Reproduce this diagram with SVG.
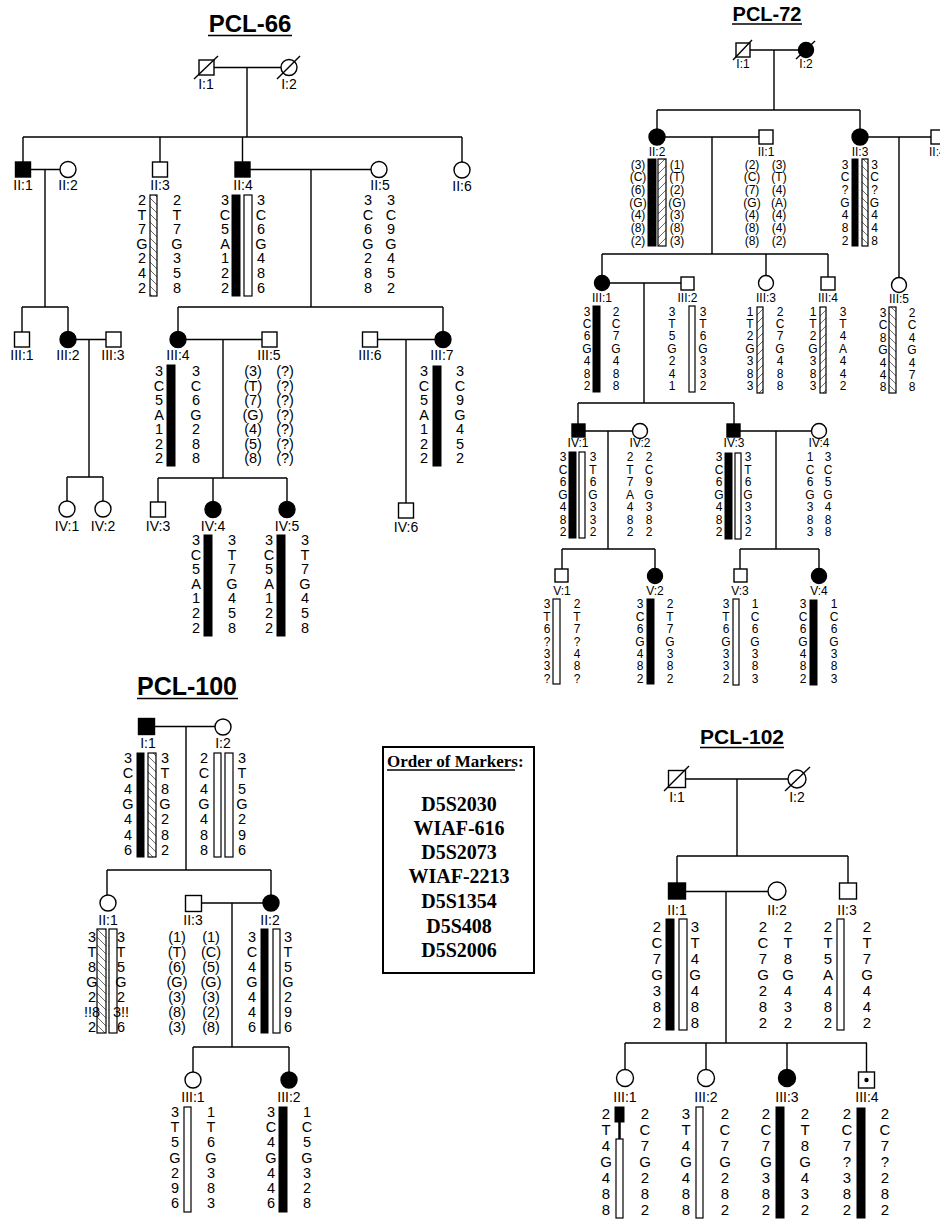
<svg xmlns="http://www.w3.org/2000/svg" width="940" height="1220" viewBox="0 0 940 1220">
<style>
text{font-family:"Liberation Sans",Arial,sans-serif;fill:#000}
.lb{font-size:14px;text-anchor:middle}
.lb7{font-size:12px;text-anchor:middle}
.a6{font-size:14.5px;text-anchor:middle}
.a7{font-size:12px;text-anchor:middle}
.a2{font-size:15px;text-anchor:middle}
.ttl{font-weight:bold;text-anchor:middle}
text.ser{font-family:"Liberation Serif","Times New Roman",serif;font-weight:bold}
text.mk{font-family:"Liberation Serif","Times New Roman",serif;font-weight:bold;font-size:20px;text-anchor:middle}
.sym{fill:#fff;stroke:#000;stroke-width:1.4}
.aff{fill:#000;stroke:#000;stroke-width:1.4}
.ln{stroke:#000;stroke-width:1.4;fill:none}
.bk{fill:#000;stroke:#000;stroke-width:1}
.wh{fill:#fff;stroke:#000;stroke-width:1.2}
.hb{fill:url(#hb);stroke:#000;stroke-width:1.2}
.hf{fill:url(#hf);stroke:#000;stroke-width:1.2}
.ul{stroke:#000;stroke-width:1.6}
</style>
<defs>
<pattern id="hb" patternUnits="userSpaceOnUse" width="8" height="8"><path d="M0,0L8,8M-1,7L1,9M7,-1L9,1" stroke="#444" stroke-width="0.8"/></pattern>
<pattern id="hf" patternUnits="userSpaceOnUse" width="8" height="8"><path d="M0,8L8,0M-1,1L1,-1M7,9L9,7" stroke="#444" stroke-width="0.8"/></pattern>
</defs>
<rect x="0" y="0" width="940" height="1220" fill="#fff"/>
<g opacity="0.995">
<g id="connectors" class="ln">
<path d="M214,67.5H281M247,67.5V137M23,137H462M23,137V162M160,137V162M242.5,137V162M462,137V162"/>
<path d="M30.5,169.5H60M45,169.5V307M22,307H68M22,307V332M68,307V331"/>
<path d="M250,169.5H371M311,169.5V307M178,307H443M178,307V331M443,307V331"/>
<path d="M76,339.5H106M89,339.5V477M67,477H103M67,477V501M103,477V501"/>
<path d="M186,339.5H262M223,339.5V478M158,478H287M158,478V502M213,478V501.5M287,478V501.5"/>
<path d="M377.5,339.5H435M406,339.5V503"/>
<path d="M750,50H798.5M774,50V110M657,110H860M657,110V129M860,110V129"/>
<path d="M665,137H759M712,137V254M602,254H828M602,254V275.5M766,254V275.5M828,254V277"/>
<path d="M868,137H931M899,137V277.5"/>
<path d="M609.5,283H681M644,283V403M578,403H734M578,403V424M734,403V424"/>
<path d="M585,431H632.5M608,431V549M562,549H655M562,549V569M655,549V568.5"/>
<path d="M740,431H811.5M776,431V549M740,549H819M740,549V569M819,549V568.5"/>
<path d="M154.5,726.5H215M186,726.5V870M107,870H271M107,870V895M271,870V895"/>
<path d="M201.5,903H263M232,903V1047M193,1047H289M193,1047V1072M289,1047V1072"/>
<path d="M685.5,779H788M737,779V856M677,856H848M677,856V883M848,856V883"/>
<path d="M685.5,891.5H768M726,891.5V1043M625,1043H867M625,1043V1069.5M706,1043V1069.5M787,1043V1069.5M866.5,1043V1072"/>
</g>

<!-- ================= PCL-66 ================= -->
<g id="p66-title"><text class="ttl" x="250" y="32" font-size="24">PCL-66</text><line class="ul" x1="208" y1="35.5" x2="292" y2="35.5"/></g>
<g id="p66-I1"><rect class="sym" x="199" y="60" width="15" height="15"/><line class="ln" x1="194" y1="79" x2="218" y2="56"/><text class="lb" x="206" y="89">I:1</text></g>
<g id="p66-I2"><circle class="sym" cx="289" cy="67.5" r="8"/><line class="ln" x1="277" y1="79" x2="300" y2="56"/><text class="lb" x="289" y="89">I:2</text></g>

<g id="p66-II1"><rect class="aff" x="15.5" y="162" width="15" height="15"/><text class="lb" x="23" y="190">II:1</text></g>
<g id="p66-II2"><circle class="sym" cx="68" cy="169.5" r="8"/><text class="lb" x="68" y="190">II:2</text></g>
<g id="p66-II3"><rect class="sym" x="152.5" y="162" width="15" height="15"/><text class="lb" x="160" y="190">II:3</text>
<rect class="hb" x="150" y="195" width="7" height="101"/>
<text class="a6" x="142" y="205"><tspan x="142">2</tspan><tspan x="142" dy="14.6">T</tspan><tspan x="142" dy="14.6">7</tspan><tspan x="142" dy="14.6">G</tspan><tspan x="142" dy="14.6">2</tspan><tspan x="142" dy="14.6">4</tspan><tspan x="142" dy="14.6">2</tspan></text>
<text class="a6" x="177" y="205"><tspan x="177">2</tspan><tspan x="177" dy="14.6">T</tspan><tspan x="177" dy="14.6">7</tspan><tspan x="177" dy="14.6">G</tspan><tspan x="177" dy="14.6">3</tspan><tspan x="177" dy="14.6">5</tspan><tspan x="177" dy="14.6">8</tspan></text></g>
<g id="p66-II4"><rect class="aff" x="235" y="162" width="15" height="15"/><text class="lb" x="243" y="190">II:4</text>
<rect class="bk" x="232" y="195" width="8" height="101"/><rect class="wh" x="244" y="195" width="8" height="101"/>
<text class="a6" x="225" y="205"><tspan x="225">3</tspan><tspan x="225" dy="14.6">C</tspan><tspan x="225" dy="14.6">5</tspan><tspan x="225" dy="14.6">A</tspan><tspan x="225" dy="14.6">1</tspan><tspan x="225" dy="14.6">2</tspan><tspan x="225" dy="14.6">2</tspan></text>
<text class="a6" x="261" y="205"><tspan x="261">3</tspan><tspan x="261" dy="14.6">C</tspan><tspan x="261" dy="14.6">6</tspan><tspan x="261" dy="14.6">G</tspan><tspan x="261" dy="14.6">4</tspan><tspan x="261" dy="14.6">8</tspan><tspan x="261" dy="14.6">6</tspan></text></g>
<g id="p66-II5"><circle class="sym" cx="379" cy="169.5" r="8"/><text class="lb" x="380" y="190">II:5</text>
<text class="a6" x="368" y="205"><tspan x="368">3</tspan><tspan x="368" dy="14.6">C</tspan><tspan x="368" dy="14.6">6</tspan><tspan x="368" dy="14.6">G</tspan><tspan x="368" dy="14.6">2</tspan><tspan x="368" dy="14.6">8</tspan><tspan x="368" dy="14.6">8</tspan></text>
<text class="a6" x="391" y="205"><tspan x="391">3</tspan><tspan x="391" dy="14.6">C</tspan><tspan x="391" dy="14.6">9</tspan><tspan x="391" dy="14.6">G</tspan><tspan x="391" dy="14.6">4</tspan><tspan x="391" dy="14.6">5</tspan><tspan x="391" dy="14.6">2</tspan></text></g>
<g id="p66-II6"><circle class="sym" cx="462" cy="170" r="8"/><text class="lb" x="462" y="191">II:6</text></g>

<g id="p66-III1"><rect class="sym" x="14.5" y="332" width="15" height="15"/><text class="lb" x="22" y="360">III:1</text></g>
<g id="p66-III2"><circle class="aff" cx="68" cy="339.5" r="8"/><text class="lb" x="68" y="360">III:2</text></g>
<g id="p66-III3"><rect class="sym" x="106" y="332" width="15" height="15"/><text class="lb" x="113" y="360">III:3</text></g>
<g id="p66-III4"><circle class="aff" cx="178" cy="339.5" r="8"/><text class="lb" x="178" y="360">III:4</text>
<rect class="bk" x="167" y="365" width="8" height="101"/>
<text class="a6" x="159" y="376"><tspan x="159">3</tspan><tspan x="159" dy="14.5">C</tspan><tspan x="159" dy="14.5">5</tspan><tspan x="159" dy="14.5">A</tspan><tspan x="159" dy="14.5">1</tspan><tspan x="159" dy="14.5">2</tspan><tspan x="159" dy="14.5">2</tspan></text>
<text class="a6" x="196" y="376"><tspan x="196">3</tspan><tspan x="196" dy="14.5">C</tspan><tspan x="196" dy="14.5">6</tspan><tspan x="196" dy="14.5">G</tspan><tspan x="196" dy="14.5">2</tspan><tspan x="196" dy="14.5">8</tspan><tspan x="196" dy="14.5">8</tspan></text></g>
<g id="p66-III5"><rect class="sym" x="262" y="332" width="15" height="15"/><text class="lb" x="269" y="360">III:5</text>
<text class="a6" x="253" y="376"><tspan x="253">(3)</tspan><tspan x="253" dy="14.5">(T)</tspan><tspan x="253" dy="14.5">(7)</tspan><tspan x="253" dy="14.5">(G)</tspan><tspan x="253" dy="14.5">(4)</tspan><tspan x="253" dy="14.5">(5)</tspan><tspan x="253" dy="14.5">(8)</tspan></text>
<text class="a6" x="285" y="376"><tspan x="285">(?)</tspan><tspan x="285" dy="14.5">(?)</tspan><tspan x="285" dy="14.5">(?)</tspan><tspan x="285" dy="14.5">(?)</tspan><tspan x="285" dy="14.5">(?)</tspan><tspan x="285" dy="14.5">(?)</tspan><tspan x="285" dy="14.5">(?)</tspan></text></g>
<g id="p66-III6"><rect class="sym" x="362.5" y="332" width="15" height="15"/><text class="lb" x="370" y="360">III:6</text></g>
<g id="p66-III7"><circle class="aff" cx="443" cy="339.5" r="8"/><text class="lb" x="442" y="360">III:7</text>
<rect class="bk" x="433" y="366" width="8" height="100"/>
<text class="a6" x="424" y="376"><tspan x="424">3</tspan><tspan x="424" dy="14.5">C</tspan><tspan x="424" dy="14.5">5</tspan><tspan x="424" dy="14.5">A</tspan><tspan x="424" dy="14.5">1</tspan><tspan x="424" dy="14.5">2</tspan><tspan x="424" dy="14.5">2</tspan></text>
<text class="a6" x="460" y="376"><tspan x="460">3</tspan><tspan x="460" dy="14.5">C</tspan><tspan x="460" dy="14.5">9</tspan><tspan x="460" dy="14.5">G</tspan><tspan x="460" dy="14.5">4</tspan><tspan x="460" dy="14.5">5</tspan><tspan x="460" dy="14.5">2</tspan></text></g>

<g id="p66-IV1"><circle class="sym" cx="67" cy="509" r="8"/><text class="lb" x="67" y="531">IV:1</text></g>
<g id="p66-IV2"><circle class="sym" cx="103" cy="509" r="8"/><text class="lb" x="103" y="531">IV:2</text></g>
<g id="p66-IV3"><rect class="sym" x="150.5" y="502" width="15" height="15"/><text class="lb" x="158" y="531">IV:3</text></g>
<g id="p66-IV4"><circle class="aff" cx="213" cy="509.5" r="8"/><text class="lb" x="213" y="531">IV:4</text>
<rect class="bk" x="204" y="535" width="8" height="101"/>
<text class="a6" x="196" y="545"><tspan x="196">3</tspan><tspan x="196" dy="14.6">C</tspan><tspan x="196" dy="14.6">5</tspan><tspan x="196" dy="14.6">A</tspan><tspan x="196" dy="14.6">1</tspan><tspan x="196" dy="14.6">2</tspan><tspan x="196" dy="14.6">2</tspan></text>
<text class="a6" x="232" y="545"><tspan x="232">3</tspan><tspan x="232" dy="14.6">T</tspan><tspan x="232" dy="14.6">7</tspan><tspan x="232" dy="14.6">G</tspan><tspan x="232" dy="14.6">4</tspan><tspan x="232" dy="14.6">5</tspan><tspan x="232" dy="14.6">8</tspan></text></g>
<g id="p66-IV5"><circle class="aff" cx="287" cy="509.5" r="8"/><text class="lb" x="287" y="531">IV:5</text>
<rect class="bk" x="277" y="535" width="8" height="101"/>
<text class="a6" x="269" y="545"><tspan x="269">3</tspan><tspan x="269" dy="14.6">C</tspan><tspan x="269" dy="14.6">5</tspan><tspan x="269" dy="14.6">A</tspan><tspan x="269" dy="14.6">1</tspan><tspan x="269" dy="14.6">2</tspan><tspan x="269" dy="14.6">2</tspan></text>
<text class="a6" x="305" y="545"><tspan x="305">3</tspan><tspan x="305" dy="14.6">T</tspan><tspan x="305" dy="14.6">7</tspan><tspan x="305" dy="14.6">G</tspan><tspan x="305" dy="14.6">4</tspan><tspan x="305" dy="14.6">5</tspan><tspan x="305" dy="14.6">8</tspan></text></g>
<g id="p66-IV6"><rect class="sym" x="398.5" y="503" width="15" height="15"/><text class="lb" x="406" y="532">IV:6</text></g>

<!-- ================= PCL-72 ================= -->
<g id="p72-title"><text class="ttl" x="767" y="21" font-size="20">PCL-72</text><line class="ul" x1="732" y1="24" x2="802" y2="24"/></g>
<g id="p72-I1"><rect class="sym" x="736" y="43" width="14" height="14"/><line class="ln" x1="733" y1="60" x2="752" y2="40"/><text class="lb7" x="743" y="68">I:1</text></g>
<g id="p72-I2"><circle class="aff" cx="806" cy="50" r="7.5"/><line class="ln" x1="796" y1="59" x2="815" y2="41"/><text class="lb7" x="806" y="68">I:2</text></g>

<g id="p72-II2"><circle class="aff" cx="657" cy="137" r="8"/><text class="lb7" x="657" y="156">II:2</text>
<rect class="bk" x="648" y="159" width="8" height="87"/><rect class="hf" x="658" y="159" width="8" height="87"/>
<text class="a7" x="638" y="168.5"><tspan x="638">(3)</tspan><tspan x="638" dy="12.7">(C)</tspan><tspan x="638" dy="12.7">(6)</tspan><tspan x="638" dy="12.7">(G)</tspan><tspan x="638" dy="12.7">(4)</tspan><tspan x="638" dy="12.7">(8)</tspan><tspan x="638" dy="12.7">(2)</tspan></text>
<text class="a7" x="677" y="168.5"><tspan x="677">(1)</tspan><tspan x="677" dy="12.7">(T)</tspan><tspan x="677" dy="12.7">(2)</tspan><tspan x="677" dy="12.7">(G)</tspan><tspan x="677" dy="12.7">(3)</tspan><tspan x="677" dy="12.7">(8)</tspan><tspan x="677" dy="12.7">(3)</tspan></text></g>
<g id="p72-II1"><rect class="sym" x="759" y="130" width="14" height="14"/><text class="lb7" x="766" y="156">II:1</text>
<text class="a7" x="752" y="168.5"><tspan x="752">(2)</tspan><tspan x="752" dy="12.7">(C)</tspan><tspan x="752" dy="12.7">(7)</tspan><tspan x="752" dy="12.7">(G)</tspan><tspan x="752" dy="12.7">(4)</tspan><tspan x="752" dy="12.7">(8)</tspan><tspan x="752" dy="12.7">(8)</tspan></text>
<text class="a7" x="779" y="168.5"><tspan x="779">(3)</tspan><tspan x="779" dy="12.7">(T)</tspan><tspan x="779" dy="12.7">(4)</tspan><tspan x="779" dy="12.7">(A)</tspan><tspan x="779" dy="12.7">(4)</tspan><tspan x="779" dy="12.7">(4)</tspan><tspan x="779" dy="12.7">(2)</tspan></text></g>
<g id="p72-II3"><circle class="aff" cx="860" cy="137" r="8"/><text class="lb7" x="860" y="156">II:3</text>
<rect class="bk" x="852" y="159" width="6" height="87"/><rect class="hb" x="862" y="159" width="6" height="87"/>
<text class="a7" x="845" y="168.5"><tspan x="845">3</tspan><tspan x="845" dy="12.7">C</tspan><tspan x="845" dy="12.7">?</tspan><tspan x="845" dy="12.7">G</tspan><tspan x="845" dy="12.7">4</tspan><tspan x="845" dy="12.7">8</tspan><tspan x="845" dy="12.7">2</tspan></text>
<text class="a7" x="874.5" y="168.5"><tspan x="874.5">3</tspan><tspan x="874.5" dy="12.7">C</tspan><tspan x="874.5" dy="12.7">?</tspan><tspan x="874.5" dy="12.7">G</tspan><tspan x="874.5" dy="12.7">4</tspan><tspan x="874.5" dy="12.7">4</tspan><tspan x="874.5" dy="12.7">8</tspan></text></g>
<g id="p72-II4"><rect class="sym" x="931" y="130" width="14" height="14"/><text x="929" y="156" font-size="12">II:4</text></g>

<g id="p72-III1"><circle class="aff" cx="602" cy="283" r="7.5"/><text class="lb7" x="602" y="302">III:1</text>
<rect class="bk" x="593" y="306" width="7" height="86"/>
<text class="a7" x="587" y="315.5"><tspan x="587">3</tspan><tspan x="587" dy="12.4">C</tspan><tspan x="587" dy="12.4">6</tspan><tspan x="587" dy="12.4">G</tspan><tspan x="587" dy="12.4">4</tspan><tspan x="587" dy="12.4">8</tspan><tspan x="587" dy="12.4">2</tspan></text>
<text class="a7" x="616" y="315.5"><tspan x="616">2</tspan><tspan x="616" dy="12.4">C</tspan><tspan x="616" dy="12.4">7</tspan><tspan x="616" dy="12.4">G</tspan><tspan x="616" dy="12.4">4</tspan><tspan x="616" dy="12.4">8</tspan><tspan x="616" dy="12.4">8</tspan></text></g>
<g id="p72-III2"><rect class="sym" x="681" y="277" width="13" height="13"/><text class="lb7" x="687.5" y="302">III:2</text>
<rect class="wh" x="689" y="306" width="6" height="86"/>
<text class="a7" x="672" y="315.5"><tspan x="672">3</tspan><tspan x="672" dy="12.4">T</tspan><tspan x="672" dy="12.4">5</tspan><tspan x="672" dy="12.4">G</tspan><tspan x="672" dy="12.4">2</tspan><tspan x="672" dy="12.4">4</tspan><tspan x="672" dy="12.4">1</tspan></text>
<text class="a7" x="703" y="315.5"><tspan x="703">3</tspan><tspan x="703" dy="12.4">T</tspan><tspan x="703" dy="12.4">6</tspan><tspan x="703" dy="12.4">G</tspan><tspan x="703" dy="12.4">3</tspan><tspan x="703" dy="12.4">3</tspan><tspan x="703" dy="12.4">2</tspan></text></g>
<g id="p72-III3"><circle class="sym" cx="766" cy="283" r="7.5"/><text class="lb7" x="766" y="302">III:3</text>
<rect class="hf" x="757" y="307" width="6" height="86"/>
<text class="a7" x="750" y="315.5"><tspan x="750">1</tspan><tspan x="750" dy="12.4">T</tspan><tspan x="750" dy="12.4">2</tspan><tspan x="750" dy="12.4">G</tspan><tspan x="750" dy="12.4">3</tspan><tspan x="750" dy="12.4">8</tspan><tspan x="750" dy="12.4">3</tspan></text>
<text class="a7" x="780" y="315.5"><tspan x="780">2</tspan><tspan x="780" dy="12.4">C</tspan><tspan x="780" dy="12.4">7</tspan><tspan x="780" dy="12.4">G</tspan><tspan x="780" dy="12.4">4</tspan><tspan x="780" dy="12.4">8</tspan><tspan x="780" dy="12.4">8</tspan></text></g>
<g id="p72-III4"><rect class="sym" x="821" y="277" width="14" height="13"/><text class="lb7" x="828" y="302">III:4</text>
<rect class="hf" x="820" y="307" width="6" height="86"/>
<text class="a7" x="813" y="315.5"><tspan x="813">1</tspan><tspan x="813" dy="12.4">T</tspan><tspan x="813" dy="12.4">2</tspan><tspan x="813" dy="12.4">G</tspan><tspan x="813" dy="12.4">3</tspan><tspan x="813" dy="12.4">8</tspan><tspan x="813" dy="12.4">3</tspan></text>
<text class="a7" x="843" y="315.5"><tspan x="843">3</tspan><tspan x="843" dy="12.4">T</tspan><tspan x="843" dy="12.4">4</tspan><tspan x="843" dy="12.4">A</tspan><tspan x="843" dy="12.4">4</tspan><tspan x="843" dy="12.4">4</tspan><tspan x="843" dy="12.4">2</tspan></text></g>
<g id="p72-III5"><circle class="sym" cx="899" cy="285" r="7.5"/><text class="lb7" x="899" y="303">III:5</text>
<rect class="hb" x="889" y="307" width="7" height="86"/>
<text class="a7" x="883" y="317"><tspan x="883">3</tspan><tspan x="883" dy="12.4">C</tspan><tspan x="883" dy="12.4">8</tspan><tspan x="883" dy="12.4">G</tspan><tspan x="883" dy="12.4">4</tspan><tspan x="883" dy="12.4">4</tspan><tspan x="883" dy="12.4">8</tspan></text>
<text class="a7" x="912" y="317"><tspan x="912">2</tspan><tspan x="912" dy="12.4">C</tspan><tspan x="912" dy="12.4">4</tspan><tspan x="912" dy="12.4">G</tspan><tspan x="912" dy="12.4">4</tspan><tspan x="912" dy="12.4">7</tspan><tspan x="912" dy="12.4">8</tspan></text></g>

<g id="p72-IV1"><rect class="aff" x="572" y="424" width="13" height="13"/><text class="lb7" x="578" y="447">IV:1</text>
<rect class="bk" x="569" y="452" width="7" height="86"/><rect class="wh" x="579" y="452" width="6" height="86"/>
<text class="a7" x="563" y="461.3"><tspan x="563">3</tspan><tspan x="563" dy="12.5">C</tspan><tspan x="563" dy="12.5">6</tspan><tspan x="563" dy="12.5">G</tspan><tspan x="563" dy="12.5">4</tspan><tspan x="563" dy="12.5">8</tspan><tspan x="563" dy="12.5">2</tspan></text>
<text class="a7" x="593" y="461.3"><tspan x="593">3</tspan><tspan x="593" dy="12.5">T</tspan><tspan x="593" dy="12.5">6</tspan><tspan x="593" dy="12.5">G</tspan><tspan x="593" dy="12.5">3</tspan><tspan x="593" dy="12.5">3</tspan><tspan x="593" dy="12.5">2</tspan></text></g>
<g id="p72-IV2"><circle class="sym" cx="640" cy="431" r="7.5"/><text class="lb7" x="640" y="447">IV:2</text>
<text class="a7" x="630" y="461.3"><tspan x="630">2</tspan><tspan x="630" dy="12.5">T</tspan><tspan x="630" dy="12.5">7</tspan><tspan x="630" dy="12.5">A</tspan><tspan x="630" dy="12.5">4</tspan><tspan x="630" dy="12.5">8</tspan><tspan x="630" dy="12.5">2</tspan></text>
<text class="a7" x="649" y="461.3"><tspan x="649">2</tspan><tspan x="649" dy="12.5">C</tspan><tspan x="649" dy="12.5">9</tspan><tspan x="649" dy="12.5">G</tspan><tspan x="649" dy="12.5">3</tspan><tspan x="649" dy="12.5">8</tspan><tspan x="649" dy="12.5">2</tspan></text></g>
<g id="p72-IV3"><rect class="aff" x="727" y="424" width="13" height="13"/><text class="lb7" x="734" y="447">IV:3</text>
<rect class="bk" x="725" y="453" width="7" height="86"/><rect class="wh" x="735" y="453" width="6" height="86"/>
<text class="a7" x="719" y="461.3"><tspan x="719">3</tspan><tspan x="719" dy="12.5">C</tspan><tspan x="719" dy="12.5">6</tspan><tspan x="719" dy="12.5">G</tspan><tspan x="719" dy="12.5">4</tspan><tspan x="719" dy="12.5">8</tspan><tspan x="719" dy="12.5">2</tspan></text>
<text class="a7" x="748" y="461.3"><tspan x="748">3</tspan><tspan x="748" dy="12.5">T</tspan><tspan x="748" dy="12.5">6</tspan><tspan x="748" dy="12.5">G</tspan><tspan x="748" dy="12.5">3</tspan><tspan x="748" dy="12.5">3</tspan><tspan x="748" dy="12.5">2</tspan></text></g>
<g id="p72-IV4"><circle class="sym" cx="819" cy="431" r="7.5"/><text class="lb7" x="819" y="447">IV:4</text>
<text class="a7" x="810" y="461.3"><tspan x="810">1</tspan><tspan x="810" dy="12.5">C</tspan><tspan x="810" dy="12.5">6</tspan><tspan x="810" dy="12.5">G</tspan><tspan x="810" dy="12.5">3</tspan><tspan x="810" dy="12.5">8</tspan><tspan x="810" dy="12.5">3</tspan></text>
<text class="a7" x="828" y="461.3"><tspan x="828">3</tspan><tspan x="828" dy="12.5">C</tspan><tspan x="828" dy="12.5">5</tspan><tspan x="828" dy="12.5">G</tspan><tspan x="828" dy="12.5">4</tspan><tspan x="828" dy="12.5">8</tspan><tspan x="828" dy="12.5">8</tspan></text></g>

<g id="p72-V1"><rect class="sym" x="555" y="569" width="13" height="13"/><text class="lb7" x="562" y="595">V:1</text>
<rect class="wh" x="553" y="599" width="7" height="85"/>
<text class="a7" x="547" y="608.3"><tspan x="547">3</tspan><tspan x="547" dy="12.4">T</tspan><tspan x="547" dy="12.4">6</tspan><tspan x="547" dy="12.4">?</tspan><tspan x="547" dy="12.4">3</tspan><tspan x="547" dy="12.4">3</tspan><tspan x="547" dy="12.4">?</tspan></text>
<text class="a7" x="577" y="608.3"><tspan x="577">2</tspan><tspan x="577" dy="12.4">T</tspan><tspan x="577" dy="12.4">7</tspan><tspan x="577" dy="12.4">?</tspan><tspan x="577" dy="12.4">4</tspan><tspan x="577" dy="12.4">8</tspan><tspan x="577" dy="12.4">?</tspan></text></g>
<g id="p72-V2"><circle class="aff" cx="655" cy="576" r="7.5"/><text class="lb7" x="655" y="595">V:2</text>
<rect class="bk" x="647" y="599" width="7" height="85"/>
<text class="a7" x="640" y="608.3"><tspan x="640">3</tspan><tspan x="640" dy="12.4">C</tspan><tspan x="640" dy="12.4">6</tspan><tspan x="640" dy="12.4">G</tspan><tspan x="640" dy="12.4">4</tspan><tspan x="640" dy="12.4">8</tspan><tspan x="640" dy="12.4">2</tspan></text>
<text class="a7" x="670" y="608.3"><tspan x="670">2</tspan><tspan x="670" dy="12.4">T</tspan><tspan x="670" dy="12.4">7</tspan><tspan x="670" dy="12.4">G</tspan><tspan x="670" dy="12.4">3</tspan><tspan x="670" dy="12.4">8</tspan><tspan x="670" dy="12.4">2</tspan></text></g>
<g id="p72-V3"><rect class="sym" x="734" y="569" width="13" height="13"/><text class="lb7" x="740" y="595">V:3</text>
<rect class="wh" x="733" y="599" width="6" height="86"/>
<text class="a7" x="726" y="608.3"><tspan x="726">3</tspan><tspan x="726" dy="12.4">T</tspan><tspan x="726" dy="12.4">6</tspan><tspan x="726" dy="12.4">G</tspan><tspan x="726" dy="12.4">3</tspan><tspan x="726" dy="12.4">3</tspan><tspan x="726" dy="12.4">2</tspan></text>
<text class="a7" x="755" y="608.3"><tspan x="755">1</tspan><tspan x="755" dy="12.4">C</tspan><tspan x="755" dy="12.4">6</tspan><tspan x="755" dy="12.4">G</tspan><tspan x="755" dy="12.4">3</tspan><tspan x="755" dy="12.4">8</tspan><tspan x="755" dy="12.4">3</tspan></text></g>
<g id="p72-V4"><circle class="aff" cx="819" cy="576" r="7.5"/><text class="lb7" x="819" y="595">V:4</text>
<rect class="bk" x="810" y="600" width="7" height="85"/>
<text class="a7" x="803" y="608.3"><tspan x="803">3</tspan><tspan x="803" dy="12.4">C</tspan><tspan x="803" dy="12.4">6</tspan><tspan x="803" dy="12.4">G</tspan><tspan x="803" dy="12.4">4</tspan><tspan x="803" dy="12.4">8</tspan><tspan x="803" dy="12.4">2</tspan></text>
<text class="a7" x="834" y="608.3"><tspan x="834">1</tspan><tspan x="834" dy="12.4">C</tspan><tspan x="834" dy="12.4">6</tspan><tspan x="834" dy="12.4">G</tspan><tspan x="834" dy="12.4">3</tspan><tspan x="834" dy="12.4">8</tspan><tspan x="834" dy="12.4">3</tspan></text></g>

<!-- ================= PCL-100 ================= -->
<g id="p100-title"><text class="ttl" x="187" y="695" font-size="25">PCL-100</text><line class="ul" x1="137" y1="698.5" x2="238" y2="698.5"/></g>
<g id="p100-I1"><rect class="aff" x="138.5" y="718.5" width="16" height="16"/><text class="lb" x="148" y="748">I:1</text>
<rect class="bk" x="137" y="753" width="7" height="104"/><rect class="hb" x="148" y="753" width="8" height="104"/>
<text class="a6" x="128" y="763"><tspan x="128">3</tspan><tspan x="128" dy="15.3">C</tspan><tspan x="128" dy="15.3">4</tspan><tspan x="128" dy="15.3">G</tspan><tspan x="128" dy="15.3">4</tspan><tspan x="128" dy="15.3">4</tspan><tspan x="128" dy="15.3">6</tspan></text>
<text class="a6" x="165" y="763"><tspan x="165">3</tspan><tspan x="165" dy="15.3">T</tspan><tspan x="165" dy="15.3">8</tspan><tspan x="165" dy="15.3">G</tspan><tspan x="165" dy="15.3">2</tspan><tspan x="165" dy="15.3">8</tspan><tspan x="165" dy="15.3">2</tspan></text></g>
<g id="p100-I2"><circle class="sym" cx="223" cy="727" r="8"/><text class="lb" x="223" y="748">I:2</text>
<rect class="wh" x="214" y="753" width="7" height="104"/><rect class="wh" x="225" y="753" width="8" height="104"/>
<text class="a6" x="204" y="763"><tspan x="204">2</tspan><tspan x="204" dy="15.3">C</tspan><tspan x="204" dy="15.3">4</tspan><tspan x="204" dy="15.3">G</tspan><tspan x="204" dy="15.3">4</tspan><tspan x="204" dy="15.3">8</tspan><tspan x="204" dy="15.3">8</tspan></text>
<text class="a6" x="242" y="763"><tspan x="242">3</tspan><tspan x="242" dy="15.3">T</tspan><tspan x="242" dy="15.3">5</tspan><tspan x="242" dy="15.3">G</tspan><tspan x="242" dy="15.3">2</tspan><tspan x="242" dy="15.3">9</tspan><tspan x="242" dy="15.3">6</tspan></text></g>

<g id="p100-II1"><circle class="sym" cx="108" cy="903" r="8"/><text class="lb" x="108" y="925">II:1</text>
<rect class="hb" x="97" y="929" width="9" height="104"/><rect class="wh" x="109" y="929" width="8" height="104"/>
<text class="a6" x="92" y="942" text-anchor="end"><tspan x="92">3</tspan><tspan x="92" dy="15">T</tspan><tspan x="92" dy="15">8</tspan><tspan x="92" dy="15">G</tspan><tspan x="92" dy="15">2</tspan><tspan x="92" dy="15">!!8</tspan><tspan x="92" dy="15">2</tspan></text>
<text class="a6" x="121" y="942" text-anchor="start"><tspan x="121">3</tspan><tspan x="121" dy="15">T</tspan><tspan x="121" dy="15">5</tspan><tspan x="121" dy="15">G</tspan><tspan x="121" dy="15">2</tspan><tspan x="121" dy="15">3!!</tspan><tspan x="121" dy="15">6</tspan></text></g>
<g id="p100-II3"><rect class="sym" x="185.5" y="895.5" width="16" height="16"/><text class="lb" x="193" y="925">II:3</text>
<text class="a6" x="177" y="942"><tspan x="177">(1)</tspan><tspan x="177" dy="15">(T)</tspan><tspan x="177" dy="15">(6)</tspan><tspan x="177" dy="15">(G)</tspan><tspan x="177" dy="15">(3)</tspan><tspan x="177" dy="15">(8)</tspan><tspan x="177" dy="15">(3)</tspan></text>
<text class="a6" x="211" y="942"><tspan x="211">(1)</tspan><tspan x="211" dy="15">(C)</tspan><tspan x="211" dy="15">(5)</tspan><tspan x="211" dy="15">(G)</tspan><tspan x="211" dy="15">(3)</tspan><tspan x="211" dy="15">(2)</tspan><tspan x="211" dy="15">(8)</tspan></text></g>
<g id="p100-II2"><circle class="aff" cx="271" cy="903" r="8"/><text class="lb" x="270" y="925">II:2</text>
<rect class="bk" x="261" y="929" width="7" height="104"/><rect class="wh" x="273" y="929" width="7" height="104"/>
<text class="a6" x="252" y="942"><tspan x="252">3</tspan><tspan x="252" dy="15">C</tspan><tspan x="252" dy="15">4</tspan><tspan x="252" dy="15">G</tspan><tspan x="252" dy="15">4</tspan><tspan x="252" dy="15">4</tspan><tspan x="252" dy="15">6</tspan></text>
<text class="a6" x="288" y="942"><tspan x="288">3</tspan><tspan x="288" dy="15">T</tspan><tspan x="288" dy="15">5</tspan><tspan x="288" dy="15">G</tspan><tspan x="288" dy="15">2</tspan><tspan x="288" dy="15">9</tspan><tspan x="288" dy="15">6</tspan></text></g>

<g id="p100-III1"><circle class="sym" cx="193" cy="1080" r="8"/><text class="lb" x="193" y="1102">III:1</text>
<rect class="wh" x="184" y="1107" width="7" height="105"/>
<text class="a6" x="175" y="1117"><tspan x="175">3</tspan><tspan x="175" dy="15.2">T</tspan><tspan x="175" dy="15.2">5</tspan><tspan x="175" dy="15.2">G</tspan><tspan x="175" dy="15.2">2</tspan><tspan x="175" dy="15.2">9</tspan><tspan x="175" dy="15.2">6</tspan></text>
<text class="a6" x="211" y="1117"><tspan x="211">1</tspan><tspan x="211" dy="15.2">T</tspan><tspan x="211" dy="15.2">6</tspan><tspan x="211" dy="15.2">G</tspan><tspan x="211" dy="15.2">3</tspan><tspan x="211" dy="15.2">8</tspan><tspan x="211" dy="15.2">3</tspan></text></g>
<g id="p100-III2"><circle class="aff" cx="289" cy="1080" r="8"/><text class="lb" x="289" y="1102">III:2</text>
<rect class="bk" x="279" y="1107" width="8" height="105"/>
<text class="a6" x="271" y="1117"><tspan x="271">3</tspan><tspan x="271" dy="15.2">C</tspan><tspan x="271" dy="15.2">4</tspan><tspan x="271" dy="15.2">G</tspan><tspan x="271" dy="15.2">4</tspan><tspan x="271" dy="15.2">4</tspan><tspan x="271" dy="15.2">6</tspan></text>
<text class="a6" x="307" y="1117"><tspan x="307">1</tspan><tspan x="307" dy="15.2">C</tspan><tspan x="307" dy="15.2">5</tspan><tspan x="307" dy="15.2">G</tspan><tspan x="307" dy="15.2">3</tspan><tspan x="307" dy="15.2">2</tspan><tspan x="307" dy="15.2">8</tspan></text></g>

<!-- ================= Order of markers ================= -->
<g id="markers">
<rect x="383" y="747" width="151" height="226" fill="#fff" stroke="#000" stroke-width="2"/>
<text class="ser" x="387" y="767" font-size="17">Order of Markers:</text>
<line class="ul" x1="387" y1="770" x2="515" y2="770"/>
<text class="mk" x="459" y="811">D5S2030</text>
<text class="mk" x="459" y="835">WIAF-616</text>
<text class="mk" x="459" y="859">D5S2073</text>
<text class="mk" x="459" y="883">WIAF-2213</text>
<text class="mk" x="459" y="908">D5S1354</text>
<text class="mk" x="459" y="933">D5S408</text>
<text class="mk" x="459" y="957">D5S2006</text>
</g>

<!-- ================= PCL-102 ================= -->
<g id="p102-title"><text class="ttl" x="742" y="744" font-size="21">PCL-102</text><line class="ul" x1="700" y1="747.5" x2="784" y2="747.5"/></g>
<g id="p102-I1"><rect class="sym" x="668.5" y="770.5" width="17" height="17"/><line class="ln" x1="664" y1="791" x2="689" y2="766"/><text class="lb" x="677" y="802">I:1</text></g>
<g id="p102-I2"><circle class="sym" cx="797" cy="779" r="9"/><line class="ln" x1="785" y1="791" x2="810" y2="767"/><text class="lb" x="797" y="802">I:2</text></g>

<g id="p102-II1"><rect class="aff" x="668.5" y="883" width="17" height="16"/><text class="lb" x="677" y="915">II:1</text>
<rect class="bk" x="666" y="919" width="8" height="111"/><rect class="wh" x="679" y="919" width="8" height="111"/>
<text class="a2" x="657" y="932"><tspan x="657">2</tspan><tspan x="657" dy="16">C</tspan><tspan x="657" dy="16">7</tspan><tspan x="657" dy="16">G</tspan><tspan x="657" dy="16">3</tspan><tspan x="657" dy="16">8</tspan><tspan x="657" dy="16">2</tspan></text>
<text class="a2" x="695" y="932"><tspan x="695">3</tspan><tspan x="695" dy="16">T</tspan><tspan x="695" dy="16">4</tspan><tspan x="695" dy="16">G</tspan><tspan x="695" dy="16">4</tspan><tspan x="695" dy="16">8</tspan><tspan x="695" dy="16">8</tspan></text></g>
<g id="p102-II2"><circle class="sym" cx="777" cy="891" r="9"/><text class="lb" x="777" y="915">II:2</text>
<text class="a2" x="763" y="932"><tspan x="763">2</tspan><tspan x="763" dy="16">C</tspan><tspan x="763" dy="16">7</tspan><tspan x="763" dy="16">G</tspan><tspan x="763" dy="16">2</tspan><tspan x="763" dy="16">8</tspan><tspan x="763" dy="16">2</tspan></text>
<text class="a2" x="788" y="932"><tspan x="788">2</tspan><tspan x="788" dy="16">T</tspan><tspan x="788" dy="16">8</tspan><tspan x="788" dy="16">G</tspan><tspan x="788" dy="16">4</tspan><tspan x="788" dy="16">3</tspan><tspan x="788" dy="16">2</tspan></text></g>
<g id="p102-II3"><rect class="sym" x="839.5" y="883" width="17" height="16"/><text class="lb" x="847" y="915">II:3</text>
<rect class="wh" x="837" y="919" width="7" height="111"/>
<text class="a2" x="828" y="932"><tspan x="828">2</tspan><tspan x="828" dy="16">T</tspan><tspan x="828" dy="16">5</tspan><tspan x="828" dy="16">A</tspan><tspan x="828" dy="16">4</tspan><tspan x="828" dy="16">8</tspan><tspan x="828" dy="16">2</tspan></text>
<text class="a2" x="867" y="932"><tspan x="867">2</tspan><tspan x="867" dy="16">T</tspan><tspan x="867" dy="16">7</tspan><tspan x="867" dy="16">G</tspan><tspan x="867" dy="16">4</tspan><tspan x="867" dy="16">4</tspan><tspan x="867" dy="16">2</tspan></text></g>

<g id="p102-III1"><circle class="sym" cx="625" cy="1078" r="8.5"/><text class="lb" x="625" y="1102">III:1</text>
<rect class="bk" x="615" y="1107" width="9" height="15"/><line x1="619.5" y1="1122" x2="619.5" y2="1139" stroke="#000" stroke-width="2.5"/><rect class="wh" x="616" y="1139" width="7" height="79"/>
<text class="a2" x="606" y="1119"><tspan x="606">2</tspan><tspan x="606" dy="16">T</tspan><tspan x="606" dy="16">4</tspan><tspan x="606" dy="16">G</tspan><tspan x="606" dy="16">4</tspan><tspan x="606" dy="16">8</tspan><tspan x="606" dy="16">8</tspan></text>
<text class="a2" x="645" y="1119"><tspan x="645">2</tspan><tspan x="645" dy="16">C</tspan><tspan x="645" dy="16">7</tspan><tspan x="645" dy="16">G</tspan><tspan x="645" dy="16">2</tspan><tspan x="645" dy="16">8</tspan><tspan x="645" dy="16">2</tspan></text></g>
<g id="p102-III2"><circle class="sym" cx="706" cy="1078" r="8.5"/><text class="lb" x="706" y="1102">III:2</text>
<rect class="wh" x="696" y="1107" width="7" height="111"/>
<text class="a2" x="686" y="1119"><tspan x="686">3</tspan><tspan x="686" dy="16">T</tspan><tspan x="686" dy="16">4</tspan><tspan x="686" dy="16">G</tspan><tspan x="686" dy="16">4</tspan><tspan x="686" dy="16">8</tspan><tspan x="686" dy="16">8</tspan></text>
<text class="a2" x="725" y="1119"><tspan x="725">2</tspan><tspan x="725" dy="16">C</tspan><tspan x="725" dy="16">7</tspan><tspan x="725" dy="16">G</tspan><tspan x="725" dy="16">2</tspan><tspan x="725" dy="16">8</tspan><tspan x="725" dy="16">2</tspan></text></g>
<g id="p102-III3"><circle class="aff" cx="787" cy="1078" r="8.5"/><text class="lb" x="787" y="1102">III:3</text>
<rect class="bk" x="776" y="1107" width="8" height="111"/>
<text class="a2" x="766" y="1119"><tspan x="766">2</tspan><tspan x="766" dy="16">C</tspan><tspan x="766" dy="16">7</tspan><tspan x="766" dy="16">G</tspan><tspan x="766" dy="16">3</tspan><tspan x="766" dy="16">8</tspan><tspan x="766" dy="16">2</tspan></text>
<text class="a2" x="805" y="1119"><tspan x="805">2</tspan><tspan x="805" dy="16">T</tspan><tspan x="805" dy="16">8</tspan><tspan x="805" dy="16">G</tspan><tspan x="805" dy="16">4</tspan><tspan x="805" dy="16">3</tspan><tspan x="805" dy="16">2</tspan></text></g>
<g id="p102-III4"><rect class="sym" x="858.5" y="1072" width="16" height="16"/><circle cx="866.5" cy="1080" r="2.2" fill="#000"/><text class="lb" x="867" y="1102">III:4</text>
<rect class="bk" x="857" y="1108" width="8" height="110"/>
<text class="a2" x="847" y="1119"><tspan x="847">2</tspan><tspan x="847" dy="16">C</tspan><tspan x="847" dy="16">7</tspan><tspan x="847" dy="16">?</tspan><tspan x="847" dy="16">3</tspan><tspan x="847" dy="16">8</tspan><tspan x="847" dy="16">2</tspan></text>
<text class="a2" x="885" y="1119"><tspan x="885">2</tspan><tspan x="885" dy="16">C</tspan><tspan x="885" dy="16">7</tspan><tspan x="885" dy="16">?</tspan><tspan x="885" dy="16">2</tspan><tspan x="885" dy="16">8</tspan><tspan x="885" dy="16">2</tspan></text></g>
</g>
</svg>
